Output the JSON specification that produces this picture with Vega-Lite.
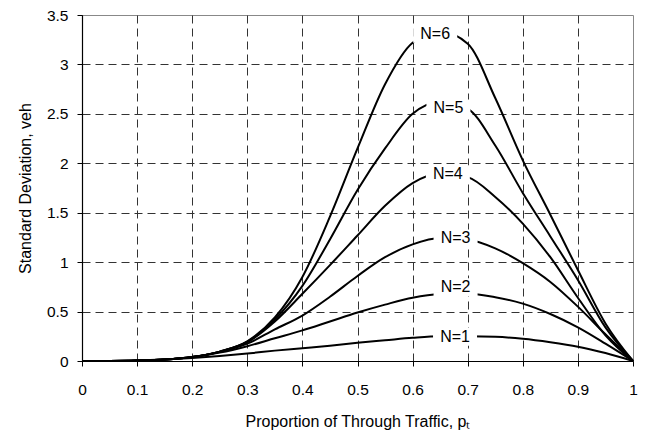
{
  "$schema": "https://vega.github.io/schema/vega-lite/v6.json",
  "width": 551,
  "height": 346,
  "autosize": {"type": "none"},
  "padding": {"left": 82, "top": 15, "right": 13, "bottom": 72},
  "background": "white",
  "config": {
    "font": "Liberation Sans",
    "view": {"stroke": "#888", "strokeWidth": 1},
    "axis": {
      "labelFont": "Liberation Sans",
      "titleFont": "Liberation Sans",
      "labelFontSize": 15.5,
      "titleFontSize": 16,
      "titleFontWeight": "normal",
      "labelColor": "#000",
      "titleColor": "#000",
      "domainColor": "#000",
      "domainWidth": 1.2,
      "tickColor": "#000",
      "tickSize": 5,
      "gridColor": "#333",
      "gridDash": [8, 5],
      "gridWidth": 1
    }
  },
  "datasets": {
    "curves": [
      {"N": "N=1", "p": 0, "sd": 0}, {"N": "N=1", "p": 0.05, "sd": 0.001}, {"N": "N=1", "p": 0.1, "sd": 0.005}, {"N": "N=1", "p": 0.15, "sd": 0.015}, {"N": "N=1", "p": 0.2, "sd": 0.03}, {"N": "N=1", "p": 0.25, "sd": 0.05}, {"N": "N=1", "p": 0.3, "sd": 0.075}, {"N": "N=1", "p": 0.35, "sd": 0.105}, {"N": "N=1", "p": 0.4, "sd": 0.13}, {"N": "N=1", "p": 0.45, "sd": 0.155}, {"N": "N=1", "p": 0.5, "sd": 0.185}, {"N": "N=1", "p": 0.55, "sd": 0.21}, {"N": "N=1", "p": 0.6, "sd": 0.235}, {"N": "N=1", "p": 0.65, "sd": 0.25}, {"N": "N=1", "p": 0.7, "sd": 0.25}, {"N": "N=1", "p": 0.75, "sd": 0.245}, {"N": "N=1", "p": 0.8, "sd": 0.225}, {"N": "N=1", "p": 0.85, "sd": 0.19}, {"N": "N=1", "p": 0.9, "sd": 0.145}, {"N": "N=1", "p": 0.95, "sd": 0.08}, {"N": "N=1", "p": 1, "sd": 0},
      {"N": "N=2", "p": 0, "sd": 0}, {"N": "N=2", "p": 0.05, "sd": 0.001}, {"N": "N=2", "p": 0.1, "sd": 0.005}, {"N": "N=2", "p": 0.15, "sd": 0.015}, {"N": "N=2", "p": 0.2, "sd": 0.04}, {"N": "N=2", "p": 0.25, "sd": 0.085}, {"N": "N=2", "p": 0.3, "sd": 0.15}, {"N": "N=2", "p": 0.35, "sd": 0.23}, {"N": "N=2", "p": 0.4, "sd": 0.31}, {"N": "N=2", "p": 0.45, "sd": 0.4}, {"N": "N=2", "p": 0.5, "sd": 0.49}, {"N": "N=2", "p": 0.55, "sd": 0.57}, {"N": "N=2", "p": 0.6, "sd": 0.64}, {"N": "N=2", "p": 0.65, "sd": 0.675}, {"N": "N=2", "p": 0.7, "sd": 0.68}, {"N": "N=2", "p": 0.75, "sd": 0.645}, {"N": "N=2", "p": 0.8, "sd": 0.58}, {"N": "N=2", "p": 0.85, "sd": 0.475}, {"N": "N=2", "p": 0.9, "sd": 0.34}, {"N": "N=2", "p": 0.95, "sd": 0.175}, {"N": "N=2", "p": 1, "sd": 0},
      {"N": "N=3", "p": 0, "sd": 0}, {"N": "N=3", "p": 0.05, "sd": 0.001}, {"N": "N=3", "p": 0.1, "sd": 0.005}, {"N": "N=3", "p": 0.15, "sd": 0.015}, {"N": "N=3", "p": 0.2, "sd": 0.04}, {"N": "N=3", "p": 0.25, "sd": 0.09}, {"N": "N=3", "p": 0.3, "sd": 0.175}, {"N": "N=3", "p": 0.35, "sd": 0.32}, {"N": "N=3", "p": 0.4, "sd": 0.46}, {"N": "N=3", "p": 0.45, "sd": 0.65}, {"N": "N=3", "p": 0.5, "sd": 0.86}, {"N": "N=3", "p": 0.55, "sd": 1.05}, {"N": "N=3", "p": 0.6, "sd": 1.18}, {"N": "N=3", "p": 0.65, "sd": 1.245}, {"N": "N=3", "p": 0.7, "sd": 1.23}, {"N": "N=3", "p": 0.75, "sd": 1.14}, {"N": "N=3", "p": 0.8, "sd": 0.99}, {"N": "N=3", "p": 0.85, "sd": 0.8}, {"N": "N=3", "p": 0.9, "sd": 0.55}, {"N": "N=3", "p": 0.95, "sd": 0.27}, {"N": "N=3", "p": 1, "sd": 0},
      {"N": "N=4", "p": 0, "sd": 0}, {"N": "N=4", "p": 0.05, "sd": 0.001}, {"N": "N=4", "p": 0.1, "sd": 0.005}, {"N": "N=4", "p": 0.15, "sd": 0.015}, {"N": "N=4", "p": 0.2, "sd": 0.04}, {"N": "N=4", "p": 0.25, "sd": 0.095}, {"N": "N=4", "p": 0.3, "sd": 0.19}, {"N": "N=4", "p": 0.35, "sd": 0.4}, {"N": "N=4", "p": 0.4, "sd": 0.68}, {"N": "N=4", "p": 0.45, "sd": 0.97}, {"N": "N=4", "p": 0.5, "sd": 1.27}, {"N": "N=4", "p": 0.55, "sd": 1.57}, {"N": "N=4", "p": 0.6, "sd": 1.8}, {"N": "N=4", "p": 0.65, "sd": 1.9}, {"N": "N=4", "p": 0.7, "sd": 1.86}, {"N": "N=4", "p": 0.75, "sd": 1.66}, {"N": "N=4", "p": 0.8, "sd": 1.39}, {"N": "N=4", "p": 0.85, "sd": 1.05}, {"N": "N=4", "p": 0.9, "sd": 0.64}, {"N": "N=4", "p": 0.95, "sd": 0.26}, {"N": "N=4", "p": 1, "sd": 0},
      {"N": "N=5", "p": 0, "sd": 0}, {"N": "N=5", "p": 0.05, "sd": 0.001}, {"N": "N=5", "p": 0.1, "sd": 0.005}, {"N": "N=5", "p": 0.15, "sd": 0.015}, {"N": "N=5", "p": 0.2, "sd": 0.04}, {"N": "N=5", "p": 0.25, "sd": 0.095}, {"N": "N=5", "p": 0.3, "sd": 0.195}, {"N": "N=5", "p": 0.35, "sd": 0.42}, {"N": "N=5", "p": 0.4, "sd": 0.76}, {"N": "N=5", "p": 0.45, "sd": 1.23}, {"N": "N=5", "p": 0.5, "sd": 1.73}, {"N": "N=5", "p": 0.55, "sd": 2.15}, {"N": "N=5", "p": 0.6, "sd": 2.5}, {"N": "N=5", "p": 0.65, "sd": 2.62}, {"N": "N=5", "p": 0.7, "sd": 2.55}, {"N": "N=5", "p": 0.75, "sd": 2.18}, {"N": "N=5", "p": 0.8, "sd": 1.7}, {"N": "N=5", "p": 0.85, "sd": 1.26}, {"N": "N=5", "p": 0.9, "sd": 0.82}, {"N": "N=5", "p": 0.95, "sd": 0.34}, {"N": "N=5", "p": 1, "sd": 0},
      {"N": "N=6", "p": 0, "sd": 0}, {"N": "N=6", "p": 0.05, "sd": 0.001}, {"N": "N=6", "p": 0.1, "sd": 0.005}, {"N": "N=6", "p": 0.15, "sd": 0.015}, {"N": "N=6", "p": 0.2, "sd": 0.04}, {"N": "N=6", "p": 0.25, "sd": 0.095}, {"N": "N=6", "p": 0.3, "sd": 0.2}, {"N": "N=6", "p": 0.35, "sd": 0.44}, {"N": "N=6", "p": 0.4, "sd": 0.85}, {"N": "N=6", "p": 0.45, "sd": 1.46}, {"N": "N=6", "p": 0.5, "sd": 2.15}, {"N": "N=6", "p": 0.55, "sd": 2.8}, {"N": "N=6", "p": 0.6, "sd": 3.22}, {"N": "N=6", "p": 0.65, "sd": 3.33}, {"N": "N=6", "p": 0.7, "sd": 3.21}, {"N": "N=6", "p": 0.75, "sd": 2.66}, {"N": "N=6", "p": 0.8, "sd": 2.03}, {"N": "N=6", "p": 0.85, "sd": 1.48}, {"N": "N=6", "p": 0.9, "sd": 0.92}, {"N": "N=6", "p": 0.95, "sd": 0.38}, {"N": "N=6", "p": 1, "sd": 0}
    ],
    "labels": [
      {"label": "N=6", "p": 0.641, "sd": 3.31},
      {"label": "N=5", "p": 0.665, "sd": 2.555},
      {"label": "N=4", "p": 0.664, "sd": 1.89},
      {"label": "N=3", "p": 0.678, "sd": 1.24},
      {"label": "N=2", "p": 0.678, "sd": 0.745},
      {"label": "N=1", "p": 0.677, "sd": 0.246}
    ]
  },
  "layer": [
    {
      "data": {"name": "curves"},
      "mark": {"type": "line", "color": "#000", "strokeWidth": 2, "interpolate": "monotone"},
      "encoding": {
        "x": {
          "field": "p", "type": "quantitative",
          "scale": {"domain": [0, 1], "nice": false},
          "axis": {
            "values": [0, 0.1, 0.2, 0.3, 0.4, 0.5, 0.6, 0.7, 0.8, 0.9, 1],
            "format": "~g",
            "title": "Proportion of Through Traffic, pₜ",
            "labelPadding": 16,
            "labelFlush": false,
            "titleY": 65,
            "titleBaseline": "alphabetic",
            "gridColor": {"condition": {"test": "datum.value == 1", "value": "transparent"}, "value": "#333"}
          }
        },
        "y": {
          "field": "sd", "type": "quantitative",
          "scale": {"domain": [0, 3.5], "nice": false},
          "axis": {
            "values": [0, 0.5, 1, 1.5, 2, 2.5, 3, 3.5],
            "format": "~g",
            "title": "Standard Deviation, veh",
            "labelPadding": 9,
            "labelFlush": false,
            "titleX": -57,
            "titleY": 173,
            "titleAngle": -90,
            "titleAlign": "center",
            "titleBaseline": "middle",
            "gridColor": {"condition": {"test": "datum.value == 3.5", "value": "transparent"}, "value": "#333"}
          }
        },
        "detail": {"field": "N", "type": "nominal"}
      }
    },
    {
      "data": {"name": "labels"},
      "mark": {"type": "point", "shape": "M-1,-0.41H1V0.41H-1Z", "size": 1936, "filled": true, "fill": "white", "stroke": null, "opacity": 1},
      "encoding": {
        "x": {"field": "p", "type": "quantitative"},
        "y": {"field": "sd", "type": "quantitative"}
      }
    },
    {
      "data": {"name": "labels"},
      "mark": {"type": "text", "font": "Liberation Sans", "fontSize": 16, "color": "#000", "align": "center", "baseline": "middle"},
      "encoding": {
        "x": {"field": "p", "type": "quantitative"},
        "y": {"field": "sd", "type": "quantitative"},
        "text": {"field": "label"}
      }
    }
  ]
}
